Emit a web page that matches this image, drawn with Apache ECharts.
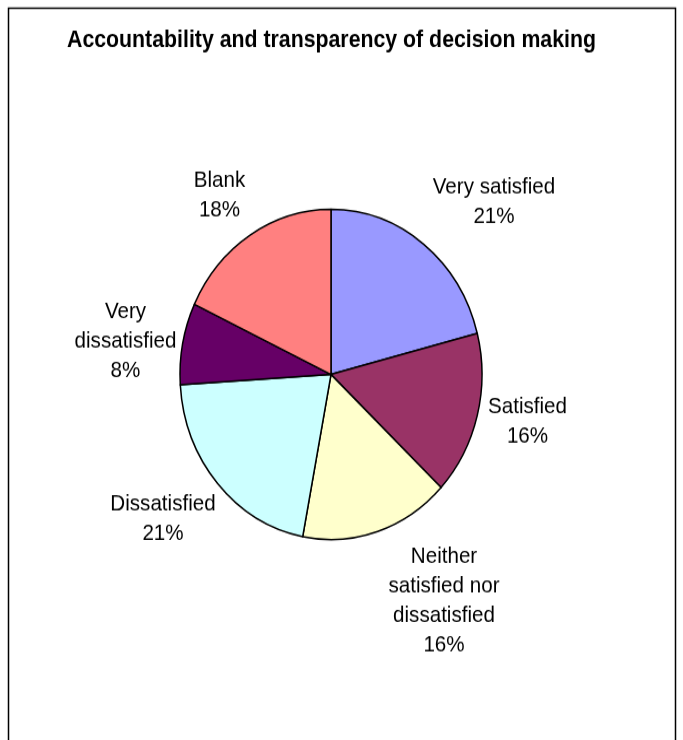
<!DOCTYPE html>
<html>
<head>
<meta charset="utf-8">
<script src="https://cdn.jsdelivr.net/npm/echarts@6/dist/echarts.min.js"></script>
<style>
html,body{margin:0;padding:0;background:#fff;overflow:hidden;}
#wrap{position:absolute;left:0;top:0;width:683px;height:677px;transform:scaleY(1.093);transform-origin:0 0;}
#chart{width:683px;height:677px;}
</style>
</head>
<body>
<div id="wrap"><div id="chart"></div></div>
<script>
// ---- data ----
const titleText = 'Accountability and transparency of decision making';
const categories = ['Very satisfied', 'Satisfied', 'Neither satisfied nor dissatisfied', 'Dissatisfied', 'Very dissatisfied', 'Blank'];
const labelNames = ['Very satisfied', 'Satisfied', 'Neither\nsatisfied nor\ndissatisfied', 'Dissatisfied', 'Very\ndissatisfied', 'Blank'];
const values = [21, 16, 16, 21, 8, 18];
const colors = ['#9999FF', '#993366', '#FFFFCC', '#CCFFFF', '#660066', '#FF8080'];

// ---- layout ----
const CX = 331, CY = 342.6, R = 151;
const labelOffsets = [[163, -158], [196.5, 43.5], [113, 207.1], [-168, 132.3], [-205.5, -30.2], [-111.5, -164.2]];

const chart = echarts.init(document.getElementById('chart'), null, {renderer: 'canvas'});
const FONT = "'Liberation Sans', Arial, Helvetica, sans-serif";

chart.setOption({
  animation: false,
  backgroundColor: '#fff',
  graphic: [{
    type: 'rect',
    shape: {x: 8.5, y: 7.6, width: 667, height: 720},
    style: {fill: 'none', stroke: '#000', lineWidth: 1.5},
    silent: true,
    z: 0
  }, {
    type: 'text',
    x: 331.5,
    y: 37.5,
    silent: true,
    style: {
      text: titleText,
      fill: '#000',
      font: "bold 21.3px 'Liberation Sans', Arial, Helvetica, sans-serif",
      textAlign: 'center',
      textVerticalAlign: 'middle'
    }
  }],
  series: [{
    type: 'pie',
    center: [CX, CY],
    radius: R,
    startAngle: 90,
    clockwise: true,
    avoidLabelOverlap: false,
    emphasis: {disabled: true},
    itemStyle: {borderColor: '#000', borderWidth: 1.5},
    label: {
      show: true,
      position: 'outside',
      fontFamily: FONT,
      fontSize: 20.6,
      lineHeight: 27,
      color: '#000',
      align: 'center',
      formatter: p => labelNames[p.dataIndex] + '\n' + p.value + '%'
    },
    labelLine: {show: false},
    labelLayout: function (p) {
      const o = labelOffsets[p.dataIndex];
      return {x: CX + o[0], y: CY + o[1], align: 'center', verticalAlign: 'middle'};
    },
    data: categories.map((c, i) => ({name: c, value: values[i], itemStyle: {color: colors[i]}}))
  }]
});
</script>
</body>
</html>
